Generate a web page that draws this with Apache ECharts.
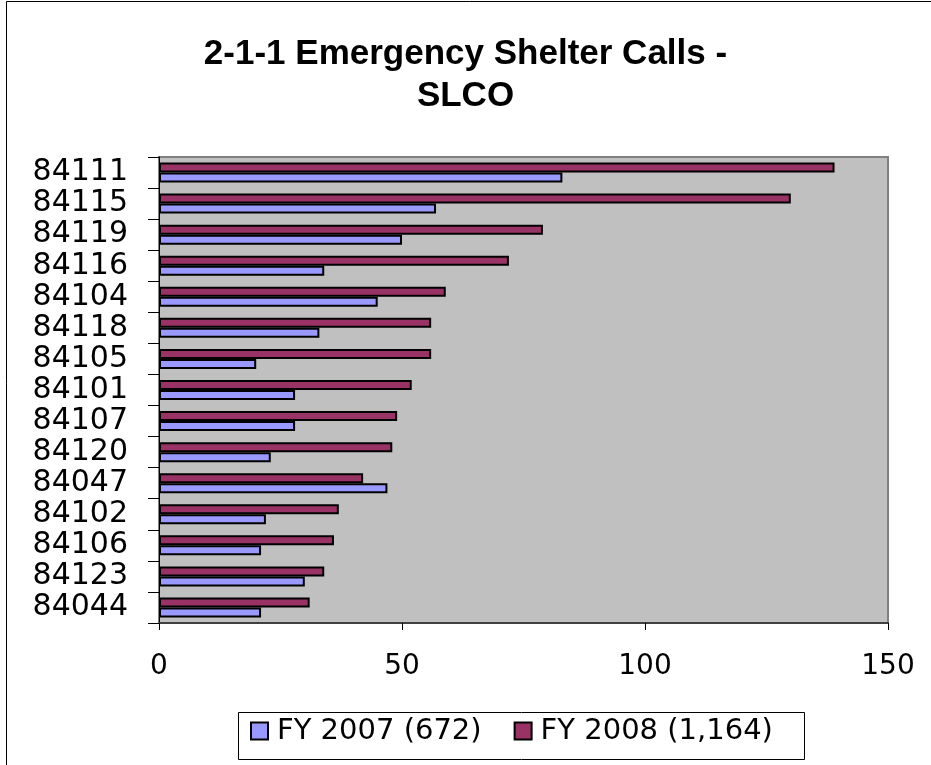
<!DOCTYPE html>
<html>
<head>
<meta charset="utf-8">
<script src="https://cdn.jsdelivr.net/npm/echarts@6/dist/echarts.min.js"></script>
<style>html,body{margin:0;padding:0;background:#fff}#c{width:931px;height:765px}</style>
</head>
<body>
<div id="c"></div>
<script>
const categories = ['84111','84115','84119','84116','84104','84118','84105','84101','84107','84120','84047','84102','84106','84123','84044'];
const fy2007 = [83,57,50,34,45,33,20,28,28,23,47,22,21,30,21];
const fy2008 = [139,130,79,72,59,56,56,52,49,48,42,37,36,34,31];
const seriesNames = ['FY 2007 (672)','FY 2008 (1,164)'];
const xTicks = [0,50,100,150];

const chart = echarts.init(document.getElementById('c'));
const titleFont = '"Liberation Sans", Arial, sans-serif';
const font = '"DejaVu Sans", sans-serif';
chart.setOption({
  animation: false,
  backgroundColor: '#fff',
  textStyle: {fontFamily: font, color: '#000'},
  graphic: [
    {type: 'rect', shape: {x: 6.5, y: 1.5, width: 930, height: 800},
     style: {fill: 'none', stroke: '#000', lineWidth: 1}, silent: true},
    {type: 'rect', shape: {x: 238.5, y: 712.5, width: 566, height: 47},
     style: {fill: 'none', stroke: '#000', lineWidth: 1}, silent: true}
  ],
  title: {
    text: '2-1-1 Emergency Shelter Calls -\nSLCO',
    left: 'center', top: 28,
    textStyle: {fontFamily: titleFont, fontSize: 35, fontWeight: 'bold', color: '#000', lineHeight: 42}
  },
  grid: {
    left: 159, right: 43, top: 157, bottom: 142,
    show: true, backgroundColor: '#C0C0C0', borderColor: '#808080', borderWidth: 2
  },
  legend: {
    left: 250, top: 716, padding: 0,
    itemGap: 32, itemWidth: 17, itemHeight: 17,
    icon: 'rect',
    textStyle: {fontFamily: font, fontSize: 29, color: '#000', lineHeight: 30, padding: [0,0,0,4]},
    data: seriesNames
  },
  xAxis: {
    type: 'value', min: 0, max: 150, interval: 50,
    axisLine: {show: true, lineStyle: {color: '#404040', width: 2}},
    axisTick: {show: true, length: 7, lineStyle: {color: '#000'}},
    splitLine: {show: false},
    axisLabel: {fontFamily: font, fontSize: 28, color: '#000', margin: 30,
      formatter: v => xTicks.includes(v) ? String(v) : ''}
  },
  yAxis: {
    type: 'category', data: categories, inverse: true,
    axisLine: {show: true, lineStyle: {color: '#000', width: 1}},
    axisTick: {show: true, length: 11, alignWithLabel: false, lineStyle: {color: '#000'}},
    axisLabel: {fontFamily: font, fontSize: 30, color: '#000', margin: 31, interval: 0}
  },
  series: [
    {name: seriesNames[1], type: 'bar', data: fy2008, barWidth: 10, barGap: '0%', barCategoryGap: '35%',
     itemStyle: {color: '#993366', borderColor: '#000', borderWidth: 2}},
    {name: seriesNames[0], type: 'bar', data: fy2007, barWidth: 10, barGap: '0%', barCategoryGap: '35%',
     itemStyle: {color: '#9999FF', borderColor: '#000', borderWidth: 2}}
  ]
});
</script>
</body>
</html>
